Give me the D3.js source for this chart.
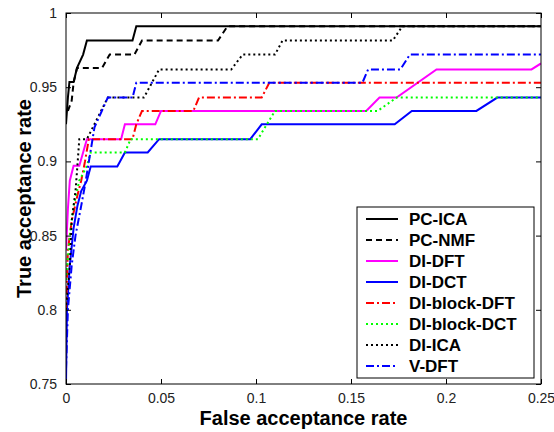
<!DOCTYPE html>
<html>
<head>
<meta charset="utf-8">
<script src="https://cdn.jsdelivr.net/npm/d3@7"></script>
<style>
  body { margin: 0; background: #fff; }
  svg { display: block; font-family: Arial, "Liberation Sans", sans-serif; }
</style>
</head>
<body>
<div id="chart"></div>
<script>
// FAR / TAR points
const pcIca = [[0,0.925],[0.001,0.943],[0.0018,0.9535],[0.004,0.9535],[0.0058,0.963],[0.009,0.972],[0.011,0.9815],[0.035,0.9815],[0.037,0.991],[0.25,0.991]];
const pcNmf = [[0.001,0.934],[0.003,0.941],[0.004,0.953],[0.0058,0.963],[0.019,0.963],[0.023,0.972],[0.036,0.972],[0.040,0.9815],[0.080,0.9815],[0.085,0.991],[0.25,0.991]];
const diDft = [[0,0.84],[0.001,0.868],[0.002,0.887],[0.004,0.897],[0.007,0.897],[0.009,0.906],[0.011,0.915],[0.029,0.915],[0.031,0.925],[0.047,0.925],[0.05,0.934],[0.158,0.934],[0.165,0.943],[0.174,0.943],[0.195,0.962],[0.245,0.962],[0.25,0.966]];
const diDct = [[0,0.75],[0.0005,0.80],[0.002,0.83],[0.004,0.855],[0.006,0.87],[0.008,0.88],[0.011,0.887],[0.013,0.8965],[0.027,0.8965],[0.031,0.906],[0.043,0.906],[0.049,0.915],[0.097,0.915],[0.103,0.925],[0.173,0.925],[0.182,0.934],[0.216,0.934],[0.227,0.943],[0.25,0.943]];
const diBlockDft = [[0,0.80],[0.001,0.84],[0.003,0.86],[0.006,0.877],[0.008,0.887],[0.01,0.9],[0.012,0.915],[0.035,0.915],[0.037,0.925],[0.04,0.934],[0.067,0.934],[0.070,0.943],[0.103,0.943],[0.107,0.953],[0.25,0.953]];
const diBlockDct = [[0,0.82],[0.002,0.85],[0.004,0.87],[0.007,0.887],[0.011,0.897],[0.013,0.906],[0.031,0.906],[0.034,0.915],[0.101,0.915],[0.11,0.934],[0.164,0.934],[0.174,0.943],[0.25,0.943]];
const diIca = [[0,0.80],[0.002,0.83],[0.003,0.86],[0.005,0.88],[0.006,0.897],[0.007,0.915],[0.011,0.915],[0.022,0.943],[0.041,0.943],[0.049,0.962],[0.087,0.962],[0.093,0.972],[0.11,0.972],[0.114,0.9815],[0.172,0.9815],[0.177,0.991],[0.25,0.991]];
const vDft = [[0,0.76],[0.001,0.80],[0.003,0.83],[0.005,0.85],[0.008,0.87],[0.010,0.884],[0.015,0.923],[0.022,0.943],[0.035,0.943],[0.037,0.953],[0.156,0.953],[0.159,0.962],[0.176,0.962],[0.181,0.972],[0.25,0.972]];

const seriesNames = ["PC-ICA", "PC-NMF", "DI-DFT", "DI-DCT", "DI-block-DFT", "DI-block-DCT", "DI-ICA", "V-DFT"];
const seriesData = [pcIca, pcNmf, diDft, diDct, diBlockDft, diBlockDct, diIca, vDft];
const xTicks = [0, 0.05, 0.1, 0.15, 0.2, 0.25];
const yTicks = [0.75, 0.8, 0.85, 0.9, 0.95, 1];

const styles = {
    "PC-ICA":       { color: "#000000", dash: null },
    "PC-NMF":       { color: "#000000", dash: "6,4" },
    "DI-DFT":       { color: "#ff00ff", dash: null },
    "DI-DCT":       { color: "#0000ff", dash: null },
    "DI-block-DFT": { color: "#ff0000", dash: "8,3,2,3" },
    "DI-block-DCT": { color: "#00ff00", dash: "2,3" },
    "DI-ICA":       { color: "#000000", dash: "2,3" },
    "V-DFT":        { color: "#0000ff", dash: "8,3,2,3" }
};

const W = 554, H = 432;
const margin = { top: 13, right: 13, bottom: 48, left: 66 };
const width = W - margin.left - margin.right;
const height = H - margin.top - margin.bottom;

const svg = d3.select("#chart").append("svg")
    .attr("width", W)
    .attr("height", H);

const g = svg.append("g")
    .attr("transform", `translate(${margin.left},${margin.top})`);

const x = d3.scaleLinear().domain([0, 0.25]).range([0, width]);
const y = d3.scaleLinear().domain([0.75, 1]).range([height, 0]);

g.append("rect")
    .attr("width", width)
    .attr("height", height)
    .attr("fill", "#fff");

g.append("clipPath").attr("id", "clip")
  .append("rect")
    .attr("width", width)
    .attr("height", height);

// curves
const line = d3.line()
    .x(d => x(d[0]))
    .y(d => y(d[1]));

g.append("g")
    .attr("clip-path", "url(#clip)")
  .selectAll("path")
  .data(seriesNames)
  .enter().append("path")
    .attr("d", (d, i) => line(seriesData[i]))
    .attr("fill", "none")
    .attr("stroke", d => styles[d].color)
    .attr("stroke-width", 2)
    .attr("stroke-dasharray", d => styles[d].dash);

// axes, MATLAB style box with ticks inside
const fmt = d => d3.format("")(d);
g.append("g")
    .attr("transform", `translate(0,${height})`)
    .call(d3.axisBottom(x).tickValues(xTicks).tickSizeInner(-5).tickSizeOuter(0).tickPadding(9).tickFormat(fmt));
g.append("g")
    .call(d3.axisTop(x).tickValues(xTicks).tickSizeInner(-5).tickSizeOuter(0).tickFormat(""));
g.append("g")
    .call(d3.axisLeft(y).tickValues(yTicks).tickSizeInner(-5).tickSizeOuter(0).tickPadding(9).tickFormat(fmt));
g.append("g")
    .attr("transform", `translate(${width},0)`)
    .call(d3.axisRight(y).tickValues(yTicks).tickSizeInner(-5).tickSizeOuter(0).tickFormat(""));

g.selectAll(".tick text")
    .attr("font-size", 14)
    .attr("font-family", "Arial, 'Liberation Sans', sans-serif")
    .attr("fill", "#222");
g.selectAll(".domain").remove();

g.append("rect")
    .attr("width", width)
    .attr("height", height)
    .attr("fill", "none")
    .attr("stroke", "#000")
    .attr("stroke-width", 1);

// axis titles
svg.append("text")
    .attr("x", margin.left + width / 2)
    .attr("y", 425)
    .attr("text-anchor", "middle")
    .attr("font-size", 20)
    .attr("font-weight", "bold")
    .text("False acceptance rate");

svg.append("text")
    .attr("transform", `translate(31,${margin.top + height / 2}) rotate(-90)`)
    .attr("text-anchor", "middle")
    .attr("font-size", 20)
    .attr("font-weight", "bold")
    .text("True acceptance rate");

// legend
const legend = svg.append("g")
    .attr("transform", "translate(357,207)");

legend.append("rect")
    .attr("width", 177)
    .attr("height", 171)
    .attr("fill", "#fff")
    .attr("stroke", "#000")
    .attr("stroke-width", 1);

const items = legend.selectAll("g.item")
    .data(seriesNames)
    .enter().append("g")
    .attr("class", "item")
    .attr("transform", (d, i) => `translate(0,${12 + i * 21})`);

items.append("line")
    .attr("x1", 9)
    .attr("x2", 41)
    .attr("stroke", d => styles[d].color)
    .attr("stroke-width", 2)
    .attr("stroke-dasharray", d => styles[d].dash);

items.append("text")
    .attr("x", 52)
    .attr("dy", "0.36em")
    .attr("font-size", 17)
    .attr("font-weight", "bold")
    .text(d => d);
</script>
</body>
</html>
